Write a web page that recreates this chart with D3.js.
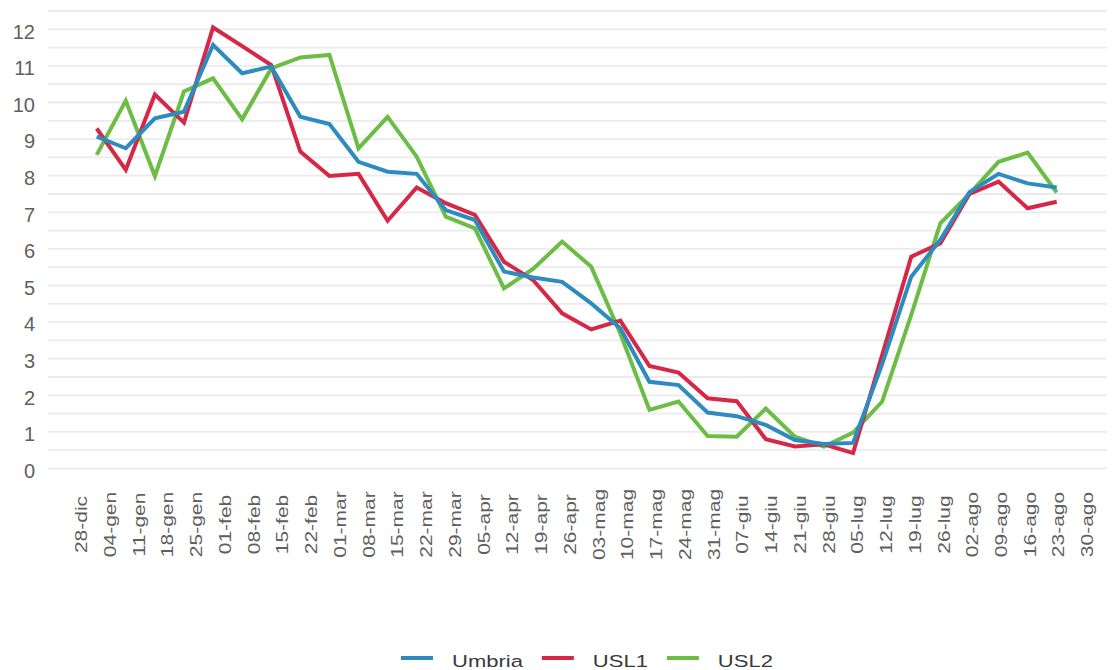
<!DOCTYPE html>
<html>
<head>
<meta charset="utf-8">
<script src="https://cdn.jsdelivr.net/npm/d3@7"></script>
<style>
  body { margin: 0; background: #fff; }
  svg { display: block; font-family: 'Liberation Sans', Arial, sans-serif; }
</style>
</head>
<body>
<svg id="chart" width="1115" height="670"></svg>
<script>
// weekly categories on the x axis
const weeks = ['28-dic', '04-gen', '11-gen', '18-gen', '25-gen', '01-feb', '08-feb', '15-feb', '22-feb',
  '01-mar', '08-mar', '15-mar', '22-mar', '29-mar', '05-apr', '12-apr', '19-apr', '26-apr',
  '03-mag', '10-mag', '17-mag', '24-mag', '31-mag', '07-giu', '14-giu', '21-giu', '28-giu',
  '05-lug', '12-lug', '19-lug', '26-lug', '02-ago', '09-ago', '16-ago', '23-ago', '30-ago'];

// one value per week, null where there is no point
const umbria = [null, 9.07, 8.75, 9.57, 9.75, 11.57, 10.8, 10.98, 9.61, 9.41, 8.38, 8.11, 8.05, 7.06, 6.79,
  5.38, 5.22, 5.10, 4.51, 3.83, 2.37, 2.28, 1.53, 1.43, 1.19, 0.78, 0.67, 0.70, 2.85, 5.24, 6.25,
  7.55, 8.05, 7.79, 7.68, null];
const usl1 = [null, 9.29, 8.16, 10.22, 9.45, 12.05, 11.54, 11.02, 8.66, 7.99, 8.05, 6.77, 7.68, 7.25, 6.93,
  5.65, 5.15, 4.24, 3.80, 4.04, 2.80, 2.62, 1.92, 1.84, 0.80, 0.60, 0.66, 0.42, 3.1, 5.79, 6.15,
  7.5, 7.84, 7.11, 7.29, null];
const usl2 = [null, 8.57, 10.05, 7.99, 10.3, 10.66, 9.54, 10.93, 11.23, 11.30, 8.75, 9.61, 8.52, 6.88, 6.56,
  4.92, 5.45, 6.20, 5.51, 3.69, 1.60, 1.83, 0.89, 0.87, 1.64, 0.87, 0.60, 0.98, 1.83, 4.2, 6.7,
  7.5, 8.38, 8.63, 7.54, null];

const yTicks = [0, 1, 2, 3, 4, 5, 6, 7, 8, 9, 10, 11, 12];
const seriesNames = ['Umbria', 'USL1', 'USL2'];

const colors = { Umbria: '#2e8bc0', USL1: '#d62846', USL2: '#6cbd45' };

const svg = d3.select('#chart');
const plot = { left: 48, right: 1107, top: 11, bottom: 468.5 };

const x = d3.scalePoint().domain(weeks).range([67.6, 1085.8]);
const xLabel = d3.scalePoint().domain(weeks).range([81, 1087]);
const y = d3.scaleLinear().domain([0, 12.5]).range([plot.bottom, plot.top]);

// gridlines, every half unit
svg.append('g')
  .attr('class', 'grid')
  .selectAll('line')
  .data(d3.range(0, 12.51, 0.5))
  .join('line')
  .attr('x1', plot.left)
  .attr('x2', plot.right)
  .attr('y1', d => y(d))
  .attr('y2', d => y(d))
  .attr('stroke', '#ebebeb')
  .attr('stroke-width', 1.8);

// y axis
const yAxis = svg.append('g')
  .attr('transform', 'translate(35,0)')
  .call(d3.axisLeft(y).tickValues(yTicks).tickSize(0).tickPadding(0));
yAxis.select('.domain').remove();
yAxis.selectAll('text')
  .attr('dy', '0.44em')
  .attr('font-size', 20)
  .attr('font-family', "'Liberation Sans', Arial, sans-serif")
  .attr('fill', '#5f5f5f');

// x axis, rotated labels
const xAxis = svg.append('g')
  .attr('transform', `translate(0,${plot.bottom})`)
  .call(d3.axisBottom(xLabel).tickSize(0));
xAxis.select('.domain').remove();
xAxis.selectAll('text')
  .attr('x', 0)
  .attr('y', 0)
  .attr('dy', '0.35em')
  .attr('text-anchor', 'middle')
  .attr('transform', 'translate(0,56) rotate(-90) scale(1,0.78)')
  .attr('font-size', 21)
  .attr('font-family', "'Liberation Sans', Arial, sans-serif")
  .attr('fill', '#5f5f5f');

// lines
const line = d3.line()
  .defined(d => d != null)
  .x((d, i) => x(weeks[i]))
  .y(d => y(d));

const series = [
  { name: 'USL2', values: usl2 },
  { name: 'USL1', values: usl1 },
  { name: 'Umbria', values: umbria }
];

svg.append('g')
  .selectAll('path')
  .data(series)
  .join('path')
  .attr('d', d => line(d.values))
  .attr('fill', 'none')
  .attr('stroke', d => colors[d.name])
  .attr('stroke-width', 4)
  .attr('stroke-linejoin', 'miter');

// legend
const legend = svg.append('g').attr('class', 'legend');
let lx = 401;
seriesNames.forEach(name => {
  legend.append('line')
    .attr('x1', lx)
    .attr('x2', lx + 32)
    .attr('y1', 658)
    .attr('y2', 658)
    .attr('stroke', colors[name])
    .attr('stroke-width', 4);
  const t = legend.append('text')
    .attr('transform', `translate(${lx + 51},667.3) scale(1,0.78)`)
    .attr('font-size', 22)
    .attr('font-family', "'Liberation Sans', Arial, sans-serif")
    .attr('fill', '#3a3a3a')
    .text(name);
  lx += 51 + t.node().getComputedTextLength() + 19;
});
</script>
</body>
</html>
